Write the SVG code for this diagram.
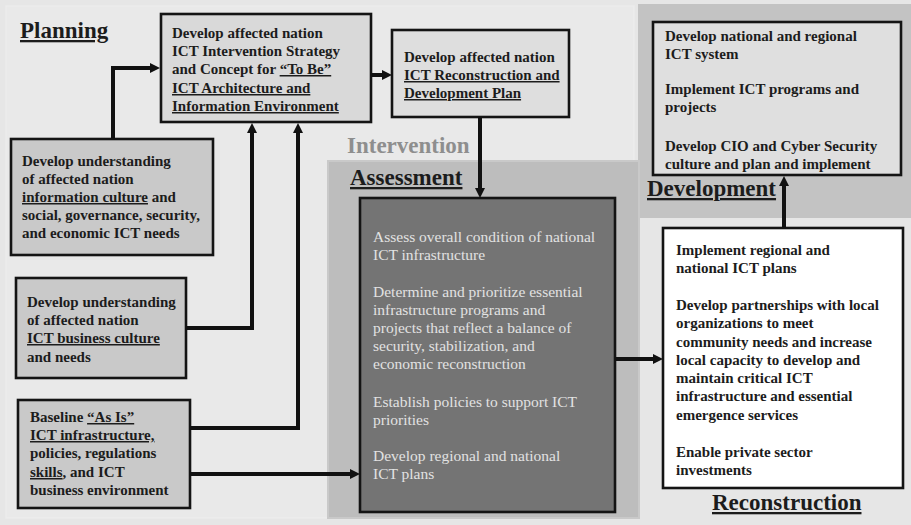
<svg xmlns="http://www.w3.org/2000/svg" width="911" height="525" viewBox="0 0 911 525">
  <defs>
    <marker id="arrow" markerUnits="userSpaceOnUse" markerWidth="11" markerHeight="11" refX="2" refY="5" orient="auto">
      <path d="M0,0 L10,5 L0,10 z" fill="#111"/>
    </marker>
    <style>
      .box { stroke: #141414; stroke-width: 2.6; }
      .t { font-family: "Liberation Serif", "Times New Roman", serif; font-weight: bold; font-size: 15px; fill: #1c1c1c; }
      .tw { font-family: "Liberation Serif", "Times New Roman", serif; font-size: 15.5px; fill: #e2e2e2; }
      .lbl { font-family: "Liberation Serif", "Times New Roman", serif; font-weight: bold; font-size: 23px; fill: #1c1c1c; }
      .u { text-decoration: underline; }
      .conn path { fill: none; stroke: #111; stroke-width: 4; stroke-linejoin: miter; }
    </style>
  </defs>

  <!-- backdrop and phase panels -->
  <rect x="0" y="0" width="911" height="525" fill="#e6e6e6"/>
  <rect x="6" y="6" width="628" height="512" fill="#e9e9e9" stroke="#ececec" stroke-width="1.5"/>
  <rect x="638" y="4" width="273" height="214" fill="#c3c3c3"/>
  <rect x="328" y="161" width="311" height="357" fill="#bdbdbd" stroke="#c9c9c9" stroke-width="2"/>

  <!-- phase labels -->
  <text class="lbl u" x="20" y="38">Planning</text>
  <text class="lbl" x="347" y="153" style="fill:#8e8e8e">Intervention</text>
  <text class="lbl u" x="350" y="185">Assessment</text>
  <text class="lbl u" x="647" y="196">Development</text>
  <text class="lbl u" x="712" y="510">Reconstruction</text>

  <!-- nodes -->
  <g id="strategy">
    <rect class="box" x="161" y="14" width="210" height="108" fill="#d9d9d9"/>
    <text class="t" x="172" y="38">Develop affected nation</text>
    <text class="t" x="172" y="56">ICT Intervention Strategy</text>
    <text class="t" x="172" y="74">and Concept for <tspan class="u">“To Be”</tspan></text>
    <text class="t u" x="172" y="93">ICT Architecture and</text>
    <text class="t u" x="172" y="111">Information Environment</text>
  </g>

  <g id="reconstruction-plan">
    <rect class="box" x="392" y="30" width="177" height="87" fill="#dedede"/>
    <text class="t" x="404" y="62">Develop affected nation</text>
    <text class="t u" x="404" y="80">ICT Reconstruction and</text>
    <text class="t u" x="404" y="98">Development Plan</text>
  </g>

  <g id="development">
    <rect class="box" x="653" y="22" width="248" height="153" fill="#dfdfdf"/>
    <text class="t" x="665" y="41">Develop national and regional</text>
    <text class="t" x="665" y="59">ICT system</text>
    <text class="t" x="665" y="94">Implement ICT programs and</text>
    <text class="t" x="665" y="112">projects</text>
    <text class="t" x="665" y="151">Develop CIO and Cyber Security</text>
    <text class="t" x="665" y="169">culture and plan and implement</text>
  </g>

  <g id="info-culture">
    <rect class="box" x="11" y="139" width="202" height="116" fill="#c9c9c9"/>
    <text class="t" x="22" y="166">Develop understanding</text>
    <text class="t" x="22" y="184">of affected nation</text>
    <text class="t" x="22" y="202"><tspan class="u">information culture</tspan> and</text>
    <text class="t" x="22" y="220">social, governance, security,</text>
    <text class="t" x="22" y="238">and economic ICT needs</text>
  </g>

  <g id="business-culture">
    <rect class="box" x="16" y="278" width="170" height="100" fill="#c9c9c9"/>
    <text class="t" x="27" y="307">Develop understanding</text>
    <text class="t" x="27" y="325">of affected nation</text>
    <text class="t u" x="27" y="343">ICT business culture</text>
    <text class="t" x="27" y="362">and needs</text>
  </g>

  <g id="baseline">
    <rect class="box" x="18" y="400" width="172" height="108" fill="#c9c9c9"/>
    <text class="t" x="30" y="422">Baseline <tspan class="u">“As Is”</tspan></text>
    <text class="t u" x="30" y="440">ICT infrastructure,</text>
    <text class="t" x="30" y="458">policies, regulations</text>
    <text class="t" x="30" y="477"><tspan class="u">skills</tspan>, and ICT</text>
    <text class="t" x="30" y="495">business environment</text>
  </g>

  <g id="assessment">
    <rect class="box" x="360" y="198" width="255" height="314" fill="#747474"/>
    <text class="tw" x="373" y="242">Assess overall condition of national</text>
    <text class="tw" x="373" y="260">ICT infrastructure</text>
    <text class="tw" x="373" y="297">Determine and prioritize essential</text>
    <text class="tw" x="373" y="315">infrastructure programs and</text>
    <text class="tw" x="373" y="333">projects that reflect a balance of</text>
    <text class="tw" x="373" y="351">security, stabilization, and</text>
    <text class="tw" x="373" y="369">economic reconstruction</text>
    <text class="tw" x="373" y="407">Establish policies to support ICT</text>
    <text class="tw" x="373" y="425">priorities</text>
    <text class="tw" x="373" y="461">Develop regional and national</text>
    <text class="tw" x="373" y="479">ICT plans</text>
  </g>

  <g id="reconstruction">
    <rect class="box" x="663" y="228" width="240" height="260" fill="#ffffff"/>
    <text class="t" x="676" y="255">Implement regional and</text>
    <text class="t" x="676" y="273">national ICT plans</text>
    <text class="t" x="676" y="310">Develop partnerships with local</text>
    <text class="t" x="676" y="328">organizations to meet</text>
    <text class="t" x="676" y="347">community needs and increase</text>
    <text class="t" x="676" y="365">local capacity to develop and</text>
    <text class="t" x="676" y="383">maintain critical ICT</text>
    <text class="t" x="676" y="401">infrastructure and essential</text>
    <text class="t" x="676" y="420">emergence services</text>
    <text class="t" x="676" y="457">Enable private sector</text>
    <text class="t" x="676" y="475">investments</text>
  </g>

  <!-- connectors -->
  <g class="conn">
    <path d="M113,139 V68 H152" marker-end="url(#arrow)"/>
    <path d="M186,328 H252 V131" marker-end="url(#arrow)"/>
    <path d="M190,428 H298 V131" marker-end="url(#arrow)"/>
    <path d="M190,474 H352" marker-end="url(#arrow)"/>
    <path d="M371,75 H384" marker-end="url(#arrow)"/>
    <path d="M480,117 V190" marker-end="url(#arrow)"/>
    <path d="M615,359 H655" marker-end="url(#arrow)"/>
    <path d="M784,228 V184" marker-end="url(#arrow)"/>
  </g>
</svg>
